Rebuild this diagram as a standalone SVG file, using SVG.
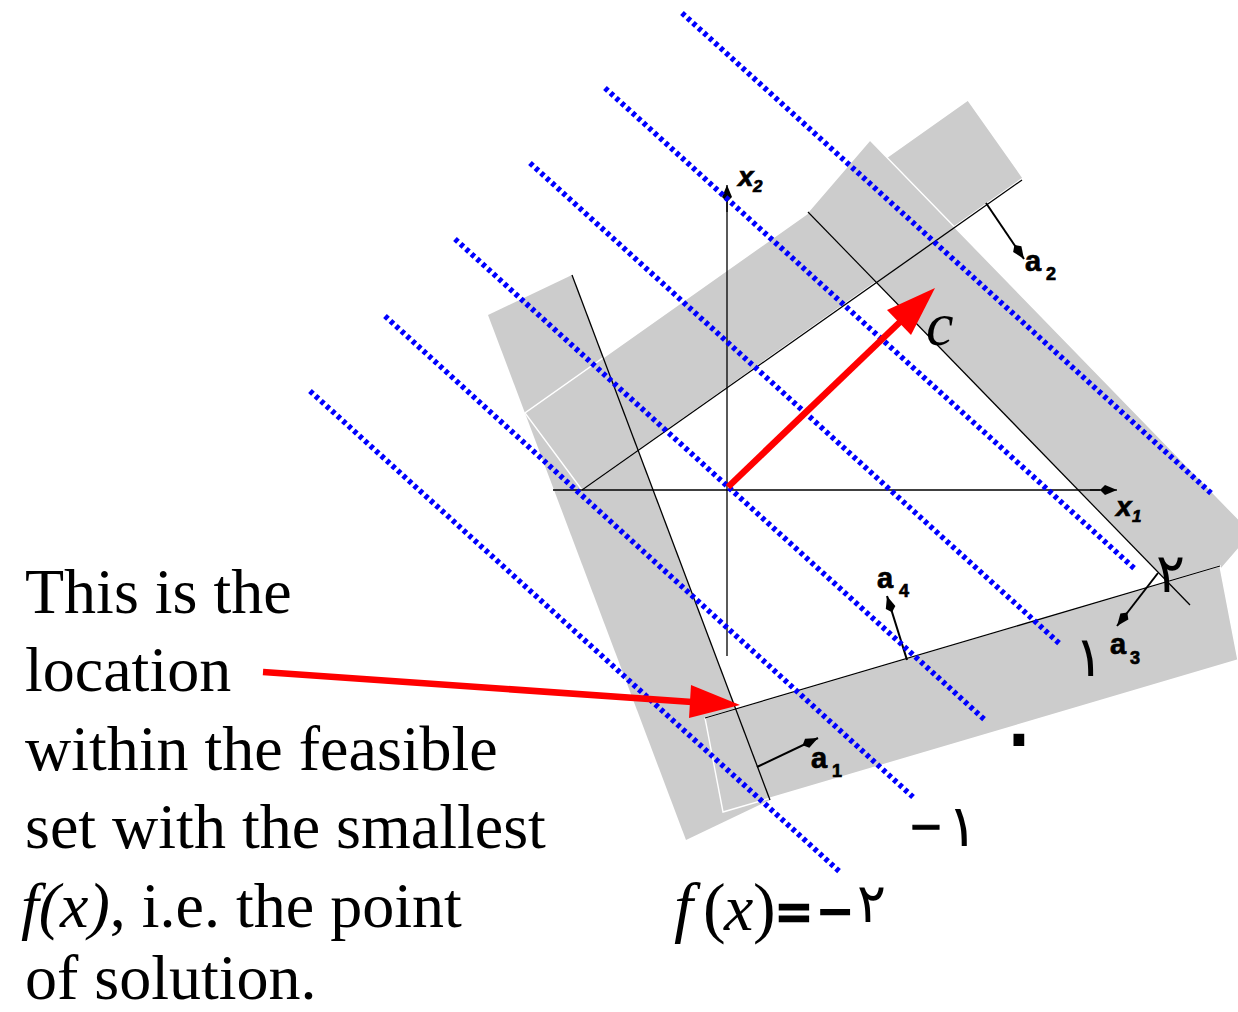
<svg xmlns="http://www.w3.org/2000/svg" width="1238" height="1012" viewBox="0 0 1238 1012">
  <defs>
    <style>
      .band { fill: #cccccc; stroke: #ffffff; stroke-width: 1.4; stroke-linejoin: miter; }
      .thin { stroke: #000000; stroke-width: 1.3; fill: none; }
      .vec { stroke: #000000; stroke-width: 2; fill: none; marker-end: url(#kite); }
      .level { stroke: #0000ff; stroke-width: 5.5; stroke-dasharray: 4 3.4; fill: none; }
      .red { stroke: #ff0000; stroke-width: 6.5; fill: none; }
      .redhead { fill: #ff0000; }
      .lab { font-family: "Liberation Sans", Arial, sans-serif; font-weight: bold; fill: #000; stroke: #000; stroke-width: 0.7; }
      .big { font-family: "Liberation Serif", "Times New Roman", serif; font-size: 64px; fill: #000; }
      .math { font-family: "Liberation Serif", "Times New Roman", serif; fill: #000; }
      .ar { font-family: "DejaVu Sans", "Noto Sans", sans-serif; fill: #000; stroke: none; font-weight: normal; }
    </style>
    <marker id="kite" markerUnits="userSpaceOnUse" viewBox="0 0 20 12" refX="19" refY="6" markerWidth="20" markerHeight="12" orient="auto">
      <path d="M19,6 L7,1 L2,6 L7,11 Z" fill="#000"/>
    </marker>
  </defs>

  <rect x="0" y="0" width="1238" height="1012" fill="#ffffff"/>

  <!-- infeasible bands -->
  <g id="band-a1"><polygon class="band" style="stroke:none" points="572,275 488,315 686,840 770,800"/></g>
  <g id="band-a2"><polygon class="band" points="582,490 525,413 968,100 1023,178"/></g>
  <g id="band-a3"><polygon class="band" points="808,212 870,140 1252,533 1190,605"/></g>
  <g id="band-a4"><polygon class="band" points="705,718 723,812 1238,660 1220,566"/></g>

  <!-- constraint lines -->
  <g id="constraints">
    <line class="thin" x1="572" y1="275" x2="770" y2="800"/>
    <line class="thin" x1="582" y1="490" x2="1022" y2="180"/>
    <line class="thin" x1="808" y1="212" x2="1190" y2="605"/>
    <line class="thin" x1="705" y1="718" x2="1220" y2="566"/>
  </g>

  <!-- axes -->
  <g id="axes">
    <line class="thin" x1="553" y1="490" x2="1100" y2="490"/>
    <line class="vec" x1="1090" y1="490" x2="1117" y2="490" style="stroke-width:1.3"/>
    <line class="thin" x1="727" y1="656" x2="727" y2="200"/>
    <line class="vec" x1="727" y1="212" x2="727" y2="185" style="stroke-width:1.3"/>
    <text class="lab" font-style="italic" font-size="28" x="738" y="186">x</text>
    <text class="lab" font-style="italic" font-size="17" x="753" y="192">2</text>
    <text class="lab" font-style="italic" font-size="28" x="1116" y="516">x</text>
    <text class="lab" font-style="italic" font-size="17" x="1132" y="522">1</text>
  </g>

  <!-- constraint normals -->
  <g id="normals">
    <line class="vec" x1="986" y1="203" x2="1024" y2="259"/>
    <line class="vec" x1="1158" y1="573" x2="1117" y2="626"/>
    <line class="vec" x1="907" y1="660" x2="887" y2="596"/>
    <line class="vec" x1="757" y1="767" x2="818" y2="738"/>
    <text class="lab" font-size="29" x="1025" y="271">a</text>
    <text class="lab" font-size="18" x="1046" y="280">2</text>
    <text class="lab" font-size="29" x="1110" y="654">a</text>
    <text class="lab" font-size="18" x="1130" y="664">3</text>
    <text class="lab" font-size="29" x="877" y="588">a</text>
    <text class="lab" font-size="18" x="899" y="597">4</text>
    <text class="lab" font-size="29" x="811" y="768">a</text>
    <text class="lab" font-size="18" x="832" y="777">1</text>
  </g>

  <!-- objective level sets -->
  <g id="level-sets">
    <line class="level" x1="682" y1="13" x2="1212" y2="494"/>
    <line class="level" x1="605" y1="88" x2="1135" y2="569"/>
    <line class="level" x1="530" y1="163" x2="1060" y2="644"/>
    <line class="level" x1="455" y1="239" x2="985" y2="720"/>
    <line class="level" x1="385" y1="316" x2="913" y2="797"/>
    <line class="level" x1="310" y1="391" x2="840" y2="872"/>
  </g>

  <!-- red arrows -->
  <g id="connectors">
    <line class="red" x1="728" y1="487" x2="901" y2="321"/>
    <polygon class="redhead" points="935,288 887,310 911,335"/>
    <line class="red" x1="263" y1="672" x2="692" y2="702"/>
    <polygon class="redhead" points="740,705 691,685 689,718"/>
  </g>

  <!-- labels -->
  <g id="c-label">
    <text class="math" font-style="italic" font-size="62" x="926" y="345">c</text>
  </g>

  <g id="arabic-labels">
    <text class="ar" font-size="54" x="1156" y="592">٢</text>
    <text class="ar" font-size="56" x="1074" y="676">١</text>
    <text class="ar" font-size="100" x="992" y="768">٠</text>
    <text class="math" font-size="56" font-weight="bold" stroke="#000" stroke-width="1.2" x="910" y="846">−</text>
    <text class="ar" font-size="58" x="947" y="846">١</text>
  </g>

  <g id="fx-label">
    <text class="math" font-style="italic" font-size="68" x="674" y="930">f</text>
    <text class="math" font-size="68" x="703" y="930">(</text>
    <text class="math" font-style="italic" font-size="66" x="724" y="930">x</text>
    <text class="math" font-size="68" x="753" y="930">)</text>
    <text class="math" font-size="60" font-weight="bold" stroke="#000" stroke-width="2.5" x="777" y="932">=</text>
    <text class="math" font-size="60" font-weight="bold" stroke="#000" stroke-width="2" x="818" y="932">−</text>
    <text class="ar" font-size="54" x="857" y="922">٢</text>
  </g>

  <g id="annotation">
    <text class="big" x="25" y="613">This is the</text>
    <text class="big" x="25" y="691">location</text>
    <text class="big" x="25" y="770">within the feasible</text>
    <text class="big" x="25" y="848">set with the smallest</text>
    <text class="big" x="21" y="927"><tspan font-style="italic">f(x)</tspan>, i.e. the point</text>
    <text class="big" x="25" y="999">of solution.</text>
  </g>
</svg>
